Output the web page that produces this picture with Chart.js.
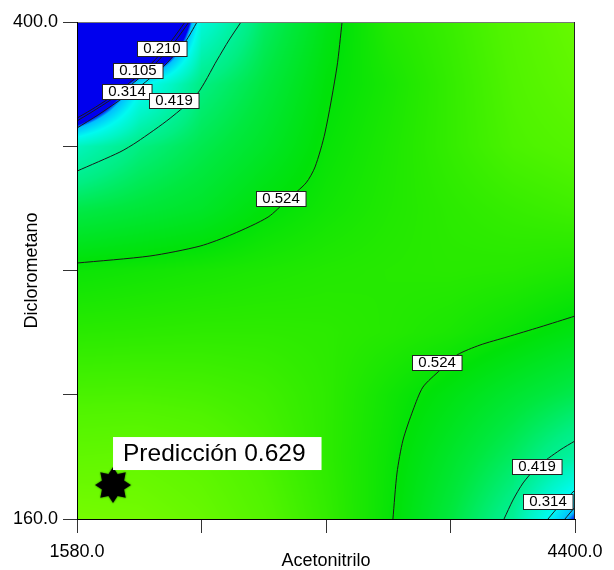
<!DOCTYPE html>
<html>
<head>
  <title>Contour - Acetonitrilo / Diclorometano</title>
  <script src="https://cdn.jsdelivr.net/npm/chart.js@4.4.1/dist/chart.umd.min.js"></script>
  <style>
    body { margin: 0; background: #fff; }
    canvas { display: block; }
  </style>
</head>
<body>
  <canvas id="contourChart" width="614" height="570"></canvas>

  <script>
    // response surface (rows = Diclorometano, cols = Acetonitrilo)
    const xGrid = [1580, 1932.5, 2285, 2637.5, 2990, 3342.5, 3695, 4047.5, 4400];
    const yGrid = [160, 190, 220, 250, 280, 310, 340, 370, 400];
    const response = [
      [0.640, 0.635, 0.620, 0.595, 0.565, 0.527, 0.470, 0.400, 0.200],
      [0.612, 0.615, 0.605, 0.585, 0.560, 0.530, 0.489, 0.445, 0.385],
      [0.584, 0.585, 0.582, 0.575, 0.560, 0.535, 0.511, 0.484, 0.458],
      [0.556, 0.558, 0.560, 0.560, 0.558, 0.552, 0.543, 0.528, 0.510],
      [0.530, 0.535, 0.540, 0.545, 0.550, 0.553, 0.555, 0.553, 0.546],
      [0.461, 0.475, 0.490, 0.518, 0.535, 0.548, 0.558, 0.567, 0.575],
      [0.356, 0.420, 0.458, 0.490, 0.526, 0.545, 0.565, 0.585, 0.595],
      [-0.100, 0.270, 0.419, 0.469, 0.518, 0.540, 0.565, 0.590, 0.610],
      [-0.900, -0.330, 0.320, 0.443, 0.507, 0.550, 0.570, 0.595, 0.620]
    ];

    // contour lines [Acetonitrilo, Diclorometano]
    const c105a = [[2192,400],[2118,391.3],[2010,380.7],[1897,372.0],[1773,363.8],[1659,357.5],[1580,353.6]];
    const c210a = [[2214,400],[2141,391.3],[2033,380.7],[1920,372.0],[1795,363.8],[1682,357.5],[1580,352.2]];
    const c314a = [[2260,400],[2192,390.3],[2078,379.2],[1954,370.1],[1823,362.3],[1699,355.1],[1580,348.8]];
    const c419a = [[2509,400],[2441,391.3],[2373,381.6],[2260,365.2],[2107,353.5],[1920,342.1],[1823,337.2],[1580,328.0]];
    const c524a = [[3081,400],[3052,378.3],[2984,346.4],[2928,330.0],[2877,322.3],[2769,314.0],[2662,305.8],[2463,297.6],[2277,291.8],[1993,287.0],[1580,283.6]];
    const c524b = [[4400,258.0],[4202,252.7],[4015,247.9],[3862,244.0],[3732,239.2],[3636,231.9],[3539,223.7],[3483,212.6],[3426,198.1],[3392,182.2],[3369,160]];
    const c419b = [[4400,197.7],[4315,193.3],[4185,185.1],[4106,177.4],[4049,169.2],[3998,160]];
    const c314b = [[4400,174.0],[4315,166.8],[4247,160]];
    const c210b = [[4400,165.8],[4343,160]];

    const labelText = ['0.210', '0.105', '0.314', '0.419', '0.524', '0.524', '0.419', '0.314'];
    const labelX = [2061, 1925, 1863, 2129, 2735, 3619, 4185, 4247];
    const labelY = [387.0, 376.3, 366.2, 361.9, 314.5, 235.3, 185.1, 168.2];

    const predX = 1784;
    const predY = 176.4;
    const predText = 'Predicción 0.629';

    const FONT = 'Arial, "Liberation Sans", sans-serif';

    // colour ramp blue -> cyan -> green -> yellow-green
    const ramp = [
      [0.20, [0, 0, 238]],
      [0.225, [0, 190, 255]],
      [0.29, [0, 250, 240]],
      [0.35, [0, 245, 195]],
      [0.42, [0, 238, 130]],
      [0.47, [0, 232, 62]],
      [0.52, [0, 226, 8]],
      [0.555, [40, 234, 0]],
      [0.59, [80, 244, 0]],
      [0.64, [118, 252, 0]]
    ];

    function colorFor(v) {
      if (v <= ramp[0][0]) return ramp[0][1];
      for (let k = 1; k < ramp.length; k++) {
        if (v <= ramp[k][0]) {
          const t = (v - ramp[k-1][0]) / (ramp[k][0] - ramp[k-1][0]);
          const a = ramp[k-1][1], b = ramp[k][1];
          return [a[0] + (b[0]-a[0])*t, a[1] + (b[1]-a[1])*t, a[2] + (b[2]-a[2])*t];
        }
      }
      return ramp[ramp.length-1][1];
    }

    function findCell(arr, v) {
      let i = 0;
      while (i < arr.length - 2 && v > arr[i+1]) i++;
      const t = Math.min(1, Math.max(0, (v - arr[i]) / (arr[i+1] - arr[i])));
      return [i, t];
    }

    function sample(xv, yv) {
      const [i, tx] = findCell(xGrid, xv);
      const [j, ty] = findCell(yGrid, yv);
      const a = response[j][i], b = response[j][i+1];
      const c = response[j+1][i], d = response[j+1][i+1];
      return (a*(1-tx) + b*tx)*(1-ty) + (c*(1-tx) + d*tx)*ty;
    }

    const heatmap = {
      id: 'heatmap',
      beforeDatasetsDraw(chart) {
        const {ctx, chartArea: a, scales: {x, y}} = chart;
        const left = Math.round(a.left), top = Math.round(a.top);
        const w = Math.round(a.right) - left, h = Math.round(a.bottom) - top;
        const img = ctx.createImageData(w, h);
        for (let j = 0; j < h; j++) {
          const yv = y.getValueForPixel(top + j + 0.5);
          for (let i = 0; i < w; i++) {
            const xv = x.getValueForPixel(left + i + 0.5);
            const col = colorFor(sample(xv, yv));
            const p = (j*w + i)*4;
            img.data[p] = col[0]; img.data[p+1] = col[1]; img.data[p+2] = col[2]; img.data[p+3] = 255;
          }
        }
        ctx.putImageData(img, left, top);
      }
    };

    const overlay = {
      id: 'overlay',
      afterDatasetsDraw(chart) {
        const {ctx, chartArea: a, scales: {x, y}} = chart;
        ctx.save();
        // contour labels
        ctx.font = '15px ' + FONT;
        ctx.textAlign = 'center';
        ctx.textBaseline = 'middle';
        labelText.forEach((t, k) => {
          const px = x.getPixelForValue(labelX[k]);
          const py = y.getPixelForValue(labelY[k]);
          const w = ctx.measureText(t).width + 12;
          const bx = Math.round(px - w/2) + 0.5, by = Math.round(py - 8) + 0.5;
          ctx.fillStyle = '#fff';
          ctx.fillRect(bx, by, w, 15);
          ctx.strokeStyle = '#222';
          ctx.lineWidth = 1;
          ctx.strokeRect(bx, by, w, 15);
          ctx.fillStyle = '#000';
          ctx.fillText(t, px, py);
        });

        // frame
        ctx.lineWidth = 1;
        ctx.strokeStyle = '#777';
        ctx.beginPath();
        ctx.moveTo(a.left, Math.round(a.top) + 0.5);
        ctx.lineTo(a.right, Math.round(a.top) + 0.5);
        ctx.stroke();
        ctx.strokeStyle = '#222';
        ctx.beginPath();
        ctx.moveTo(Math.round(a.right) - 0.5, a.top);
        ctx.lineTo(Math.round(a.right) - 0.5, a.bottom);
        ctx.stroke();
        ctx.strokeStyle = '#000';
        ctx.beginPath();
        ctx.moveTo(Math.round(a.left) + 0.5, a.top);
        ctx.lineTo(Math.round(a.left) + 0.5, a.bottom);
        ctx.moveTo(a.left, Math.round(a.bottom) + 0.5);
        ctx.lineTo(a.right, Math.round(a.bottom) + 0.5);
        ctx.stroke();

        // prediction label
        const sx = x.getPixelForValue(predX), sy = y.getPixelForValue(predY);
        ctx.font = '24.5px ' + FONT;
        ctx.textAlign = 'left';
        const tw = ctx.measureText(predText).width;
        ctx.fillStyle = '#fff';
        ctx.fillRect(sx, sy - 48, tw + 26, 33);
        ctx.fillStyle = '#000';
        ctx.fillText(predText, sx + 10, sy - 31);
        ctx.restore();
      }
    };

    // 8-point star marker
    const star = document.createElement('canvas');
    star.width = 44; star.height = 44;
    const sc = star.getContext('2d');
    sc.shadowColor = 'rgba(0,40,0,0.6)';
    sc.shadowBlur = 2;
    sc.fillStyle = '#000';
    sc.beginPath();
    for (let k = 0; k < 16; k++) {
      const r = k % 2 ? 12 : 18;
      const ang = -Math.PI/2 + k*Math.PI/8;
      const px = 22 + r*Math.cos(ang), py = 22 + r*Math.sin(ang);
      if (k === 0) sc.moveTo(px, py); else sc.lineTo(px, py);
    }
    sc.closePath();
    sc.fill();

    const toPts = arr => arr.map(p => ({x: p[0], y: p[1]}));
    const contour = arr => ({
      data: toPts(arr),
      showLine: true,
      borderColor: '#1a1a1a',
      borderWidth: 1,
      pointRadius: 0,
      tension: 0.25,
      fill: false
    });

    const ctx = document.getElementById('contourChart').getContext('2d');
    new Chart(ctx, {
      type: 'scatter',
      data: {
        datasets: [
          contour(c105a), contour(c210a), contour(c314a), contour(c419a), contour(c524a),
          contour(c524b), contour(c419b), contour(c314b), contour(c210b),
          {
            data: [{x: predX, y: predY}],
            pointStyle: star,
            pointRadius: 18,
            showLine: false
          }
        ]
      },
      options: {
        responsive: false,
        animation: false,
        layout: { padding: { top: 22, right: 39, left: 0, bottom: 0 } },
        plugins: { legend: { display: false }, tooltip: { enabled: false } },
        scales: {
          x: {
            type: 'linear',
            min: 1580, max: 4400,
            ticks: {
              stepSize: 705, autoSkip: false, maxRotation: 0, padding: 8,
              color: '#000', font: { size: 18, family: FONT },
              callback: v => (v === 1580 || v === 4400) ? v.toFixed(1) : ''
            },
            grid: { drawOnChartArea: false, tickLength: 14, color: '#333' },
            border: { color: '#000' },
            title: {
              display: true, text: 'Acetonitrilo', color: '#000',
              font: { size: 18, family: FONT, lineHeight: 1 }, padding: { top: -1, bottom: 0 }
            },
            afterFit(scale) { scale.height = 51; }
          },
          y: {
            type: 'linear',
            min: 160, max: 400,
            ticks: {
              stepSize: 60, autoSkip: false, padding: 5,
              color: '#000', font: { size: 18, family: FONT },
              callback: v => (v === 160 || v === 400) ? v.toFixed(1) : ''
            },
            grid: { drawOnChartArea: false, tickLength: 14, color: '#333' },
            border: { color: '#000' },
            title: {
              display: true, text: 'Diclorometano', color: '#000',
              font: { size: 18, family: FONT, lineHeight: 1 }, padding: { top: 23, bottom: 0 }
            },
            afterFit(scale) { scale.width = 77; }
          }
        }
      },
      plugins: [heatmap, overlay]
    });
  </script>
</body>
</html>
